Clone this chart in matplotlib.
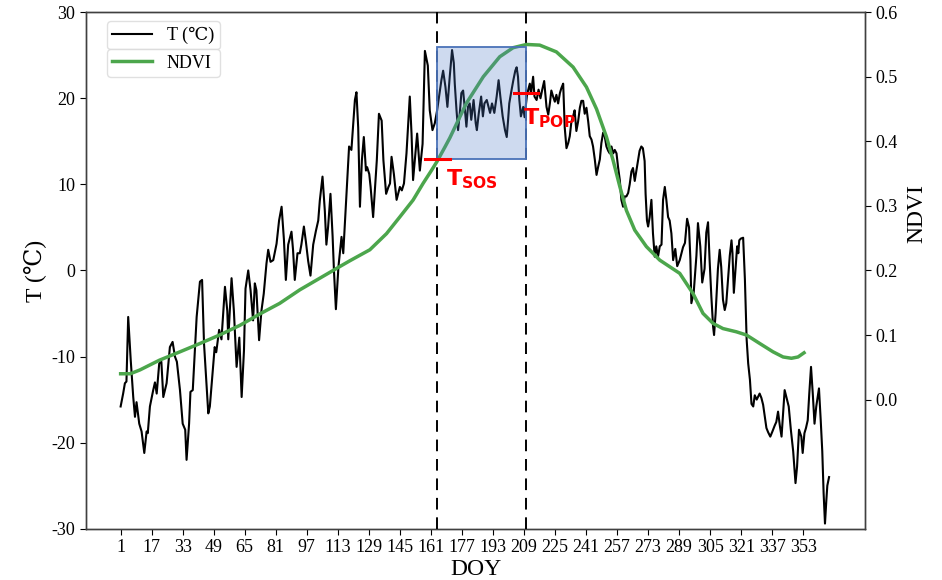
import matplotlib
matplotlib.use("Agg")
import matplotlib.pyplot as plt
from matplotlib.patches import Rectangle
from matplotlib.lines import Line2D

plt.rcParams['font.family'] = ['Liberation Serif', 'DejaVu Serif']
plt.rcParams['mathtext.fontset'] = 'dejavusans'
plt.rcParams['axes.unicode_minus'] = False

# ---------------- data ----------------
t_days = [1, 2.3, 3.2, 4, 4.9, 6.2, 7.5, 8.4, 9.2, 10.6, 11.8, 13.2, 14.4, 15, 16.1, 17.8, 18.7, 19.6,
          20.9, 22, 23, 24.7, 26.4, 27.8, 29, 30, 31.6, 33, 34.3, 35, 36.3, 37, 38.2, 40.2, 41.9, 43, 44,
          46.2, 47, 48.7, 49.5, 50.3, 51.8, 53, 54.8, 56, 56.5, 58.2, 59.4, 60.8, 62.2, 63.4, 64.6, 65.4,
          66.8, 68, 69.3, 70.2, 71, 72.4, 73.6, 74.8, 76.2, 77.1, 78.3, 79.7, 81.4, 82.7, 84, 85.2, 86.2,
          87.4, 89.1, 89.9, 90.8, 92.2, 93.4, 94.2, 95.5, 96.5, 97.7, 98.9, 100.3, 101.7, 102.9, 103.7,
          105.1, 106.3, 107.1, 108, 109.2, 110.3, 111, 112, 113.3, 114.9, 115.8, 117.5, 118.8, 120, 121.8,
          122.6, 123.5, 124.4, 125.4, 126.4, 127.5, 128.1, 129.2, 129.9, 131.2, 133.1, 134.2, 135.6, 136.5,
          137.9, 139.1, 139.9, 140.7, 141.9, 143.3, 145, 146, 147.1, 148.4, 150.1, 151, 151.8, 152.7, 153.9,
          155.3, 156.7, 157.9, 159.4, 160.4, 161.8, 163, 164.2, 165.2, 166.4, 167.3, 168.5, 169.5, 170.7,
          171.9, 172.8, 173.3, 174.2, 175, 175.9, 176.7, 177.6, 178.4, 179.3, 180.1, 181, 181.8, 183, 184.1,
          184.7, 185.7, 186.9, 187.8, 188.6, 189.8, 190.7, 191.5, 192.5, 193.7, 194.9, 195.9, 196.8, 198,
          199.2, 200.1, 200.8, 201.4, 202.3, 203.5, 204.5, 205.2, 205.9, 206.6, 207.4, 208.6, 209.3, 210.5,
          211.2, 212, 212.6, 213.7, 214.4, 215.5, 216.5, 217.5, 218.4, 219.4, 220.6, 221.5, 222.4, 223.1,
          224, 224.9, 225.7, 226.6, 227.5, 228.3, 229.2, 230, 230.9, 231.8, 232.6, 233.4, 234.3, 235.1, 236,
          236.9, 237.8, 238.6, 239.5, 240.3, 241.2, 242.1, 242.9, 243.8, 244.6, 245.5, 246.4, 247.2, 248.1,
          248.9, 249.8, 250.6, 251.5, 252.4, 253.2, 254.1, 255, 255.8, 256.7, 257.5, 258.4, 259.2, 260.1,
          260.9, 261.8, 262.7, 263.5, 264.4, 265.2, 266.1, 266.9, 267.8, 268.6, 269.5, 270.3, 271.2, 271.7,
          272.4, 273, 273.8, 274.7, 275.5, 276.4, 277.2, 278.1, 279, 279.9, 280.7, 281.6, 282.4, 283.3,
          284.1, 285, 285.9, 287, 288, 289.3, 291, 292, 293.1, 294.1, 294.8, 295.3, 296.5, 297.9, 298.7,
          299.9, 300.9, 302.1, 303, 303.9, 304.7, 305.6, 306.5, 307, 307.8, 309, 309.9, 310.7, 311.6, 312.5,
          313.3, 314.2, 315.1, 316, 316.5, 317.2, 318.2, 318.9, 319.5, 320, 320.8, 322, 322.9, 323.4, 323.8,
          324.6, 325.5, 326.3, 327.2, 328, 329, 330.5, 331.4, 332.3, 333.2, 334, 334.9, 336, 337.1, 338.3,
          339.1, 340, 340.9, 341.8, 342.6, 343.4, 344.4, 345.5, 346.6, 347.8, 349, 349.8, 350.8, 352, 352.7,
          353.6, 354.4, 355.3, 356.1, 357, 357.9, 358.8, 359.7, 361.1, 362, 362.8, 363.5, 364.2, 364.9,
          365.4, 366.3]
t_vals = [-15.8, -14.3, -13.1, -12.9, -5.4, -10.4, -14.7, -17.0, -15.3, -17.8, -18.7, -21.2, -18.7, -18.9,
          -15.8, -13.9, -13.0, -14.3, -10.8, -10.6, -14.7, -13.1, -8.9, -8.3, -10.0, -10.6, -13.9, -17.8,
          -18.5, -22.0, -17.8, -14.1, -13.9, -5.4, -1.3, -1.1, -8.5, -16.6, -15.8, -11.2, -8.9, -9.5, -6.9,
          -8.0, -1.9, -4.7, -8.0, -0.9, -4.7, -11.2, -7.8, -14.7, -9.3, -2.1, 0.0, -2.3, -5.8, -1.5, -2.3,
          -8.1, -4.7, -2.7, 0.8, 2.4, 1.0, 1.2, 3.1, 5.8, 7.4, 3.6, -1.1, 3.0, 4.5, 2.4, -1.1, 2.0, 2.0, 3.0,
          5.1, 3.4, 1.1, -0.6, 3.0, 4.6, 5.8, 8.1, 10.9, 6.9, 3.0, 5.1, 8.9, 4.0, 0.0, -4.5, 0.4, 3.9, 2.0,
          8.9, 14.4, 14.0, 19.8, 20.7, 16.6, 7.4, 12.8, 15.5, 11.6, 12.0, 11.2, 9.7, 6.2, 12.8, 18.2, 17.4,
          12.8, 8.9, 9.7, 10.1, 13.2, 11.2, 8.2, 9.7, 9.3, 10.1, 13.6, 20.2, 15.9, 10.5, 12.8, 15.9, 11.6,
          14.7, 25.5, 23.8, 18.6, 16.3, 17.1, 18.6, 20.2, 22.1, 23.2, 21.3, 19.0, 22.5, 25.6, 24.1, 21.7,
          18.6, 16.3, 18.3, 20.6, 20.9, 19.0, 16.7, 19.0, 19.4, 17.5, 19.8, 17.1, 16.3, 18.3, 20.2, 17.9,
          19.4, 19.8, 19.0, 18.3, 19.4, 18.3, 20.2, 22.1, 20.2, 17.9, 16.3, 15.5, 17.5, 19.4, 20.6, 22.1,
          23.2, 23.6, 22.5, 19.8, 17.9, 19.0, 17.8, 20.3, 21.0, 21.7, 20.5, 22.5, 20.2, 19.8, 21.0, 20.0,
          21.0, 22.0, 19.0, 18.1, 19.5, 20.9, 20.2, 19.6, 20.4, 19.4, 20.6, 21.2, 21.7, 16.6, 14.2, 14.8,
          15.6, 17.2, 17.9, 18.6, 16.2, 17.3, 18.9, 19.7, 19.7, 18.2, 18.9, 17.3, 15.6, 15.2, 14.4, 12.9,
          11.1, 12.0, 12.9, 14.8, 16.0, 15.6, 14.4, 13.9, 13.6, 14.4, 13.6, 14.0, 13.6, 12.0, 10.5, 8.2,
          7.4, 8.6, 8.6, 9.0, 10.0, 11.5, 11.9, 10.4, 11.5, 12.7, 13.9, 14.4, 14.2, 12.7, 8.9, 5.8, 5.1,
          6.2, 8.2, 4.3, 1.6, 2.8, 1.6, 2.8, 3.0, 8.2, 9.7, 8.2, 6.2, 5.8, 4.3, 1.2, 2.5, 0.5, 1.2, 2.7,
          3.2, 6.0, 5.0, 1.3, -3.8, -2.6, 1.7, 5.5, 2.8, -1.4, 0.2, 4.4, 5.6, 1.2, -3.0, -6.5, -7.5, -5.0,
          0.2, 2.4, 0.4, -3.4, -4.6, -3.8, -1.0, 1.7, 3.5, 2.0, -2.6, 0.5, 2.8, 2.0, 3.5, 3.7, 3.8, -1.0,
          -4.9, -8.0, -10.8, -12.7, -15.5, -15.8, -14.5, -15.0, -14.3, -14.8, -15.6, -17.0, -18.3, -18.8,
          -19.3, -18.7, -18.0, -17.6, -16.4, -18.0, -19.3, -16.5, -13.9, -14.8, -15.8, -18.5, -21.0, -24.7,
          -22.8, -18.5, -19.3, -21.2, -18.9, -18.3, -17.4, -14.3, -11.2, -14.3, -17.8, -15.8, -13.7, -17.4,
          -21.0, -25.9, -29.4, -26.7, -25.0, -24.0]

ndvi_days = [1, 6, 11, 21, 31.6, 42, 52, 62.5, 73, 83, 93.4, 103.7, 114, 119.2, 129.5, 138.1, 145, 151.8,
             157, 161.3, 164, 168.2, 170.7, 179.3, 188, 196.5, 203.4, 210.3, 217.1, 225.7, 234.3, 241.2,
             246.4, 251.5, 254.9, 258.4, 261.8, 266.1, 272.1, 279, 289.3, 296.2, 301.3, 306.5, 311.6,
             318.5, 323.7, 330.5, 337.4, 342.6, 346.9, 350.3, 353.4]
ndvi_vals = [0.040, 0.040, 0.046, 0.061, 0.074, 0.087, 0.100, 0.115, 0.133, 0.149, 0.170, 0.188, 0.206,
             0.215, 0.232, 0.257, 0.283, 0.309, 0.335, 0.355, 0.368, 0.391, 0.405, 0.459, 0.500, 0.531,
             0.545, 0.550, 0.549, 0.5385, 0.515, 0.484, 0.450, 0.407, 0.371, 0.330, 0.293, 0.2625, 0.237,
             0.216, 0.1955, 0.164, 0.1335, 0.118, 0.110, 0.105, 0.100, 0.087, 0.074, 0.066, 0.064, 0.066,
             0.0725]

doy_ticks = list(range(1, 354, 16))
t_ticks = [-30, -20, -10, 0, 10, 20, 30]
ndvi_ticks = [0.0, 0.1, 0.2, 0.3, 0.4, 0.5, 0.6]

sos_day, pop_day = 164, 210
t_sos, t_pop = 12.9, 20.6
box_top = 26.0

# ---------------- figure ----------------
fig = plt.figure(figsize=(9.42, 5.8), dpi=100)
ax = fig.add_axes([0.091, 0.0884, 0.8276, 0.8906])
ax2 = ax.twinx()

green = '#4ca64c'
l1, = ax.plot(t_days, t_vals, color='black', lw=1.5, zorder=3)
l2, = ax2.plot(ndvi_days, ndvi_vals, color=green, lw=2.5, zorder=3)

ax.set_xlim(-17, 385)
ax.set_ylim(-30, 30)
ax2.set_ylim(-0.2, 0.6)
ax.set_xticks(doy_ticks)
ax.set_yticks(t_ticks)
ax2.set_yticks(ndvi_ticks)
ax2.set_yticklabels([f'{v:.1f}' for v in ndvi_ticks])

ax.tick_params(axis='both', labelsize=13, length=4, direction='out')
ax2.tick_params(axis='y', labelsize=13, length=4, direction='out')

ax.set_xlabel('DOY', fontsize=17, labelpad=2)
ax.set_ylabel('T (℃)', fontsize=17, labelpad=4)
ax2.set_ylabel('NDVI', fontsize=17)
ax2.yaxis.set_label_coords(1.052, 0.61)

for s in list(ax.spines.values()) + list(ax2.spines.values()):
    s.set_color('0.25')
    s.set_linewidth(1.0)

# dashed vertical lines
for d in (sos_day, pop_day):
    ax2.axvline(d, color='black', ls=(0, (6, 4)), lw=1.4, zorder=5)

# highlighted box (drawn on top axes, in T coordinates)
rect = Rectangle((sos_day, t_sos), pop_day - sos_day, box_top - t_sos,
                 transform=ax.transData, facecolor='#4f7bc8', alpha=0.28,
                 edgecolor='none', zorder=6)
ax2.add_patch(rect)
rect_edge = Rectangle((sos_day, t_sos), pop_day - sos_day, box_top - t_sos,
                      transform=ax.transData, facecolor='none',
                      edgecolor='#4a72b8', lw=1.3, zorder=6.5)
ax2.add_patch(rect_edge)

# red markers
ax2.plot([sos_day - 6, sos_day + 7], [t_sos, t_sos], color='red', lw=2.2,
         transform=ax.transData, zorder=8)
ax2.plot([pop_day - 6, pop_day + 6], [t_pop, t_pop], color='red', lw=2.2,
         transform=ax.transData, zorder=8)
ax2.text(sos_day + 5, t_sos - 0.9, r'$\mathbf{T}_{\mathbf{SOS}}$', color='red', fontsize=16,
         ha='left', va='top', transform=ax.transData, zorder=9)
ax2.text(pop_day - 1.5, t_pop - 1.5, r'$\mathbf{T}_{\mathbf{POP}}$', color='red', fontsize=16,
         ha='left', va='top', transform=ax.transData, zorder=9)

# legends (two stacked boxes)
leg1 = ax2.legend(handles=[Line2D([], [], color='black', lw=1.5)], labels=['T (℃)'],
                  loc='upper left', bbox_to_anchor=(107 / 942, 1 - 27 / 580, 113 / 942, 0.01),
                  bbox_transform=fig.transFigure, mode='expand', borderaxespad=0,
                  fontsize=13, frameon=True, edgecolor='0.85', handlelength=2.2,
                  borderpad=0.3, handletextpad=0.8)
leg1.set_zorder(20)
ax2.add_artist(leg1)
leg2 = ax2.legend(handles=[Line2D([], [], color=green, lw=2.5)], labels=['NDVI'],
                  loc='upper left', bbox_to_anchor=(107 / 942, 1 - 55 / 580, 113 / 942, 0.01),
                  bbox_transform=fig.transFigure, mode='expand', borderaxespad=0,
                  fontsize=13, frameon=True, edgecolor='0.85', handlelength=2.2,
                  borderpad=0.3, handletextpad=0.8)
leg2.set_zorder(20)

fig.savefig('out.png', dpi=100)
